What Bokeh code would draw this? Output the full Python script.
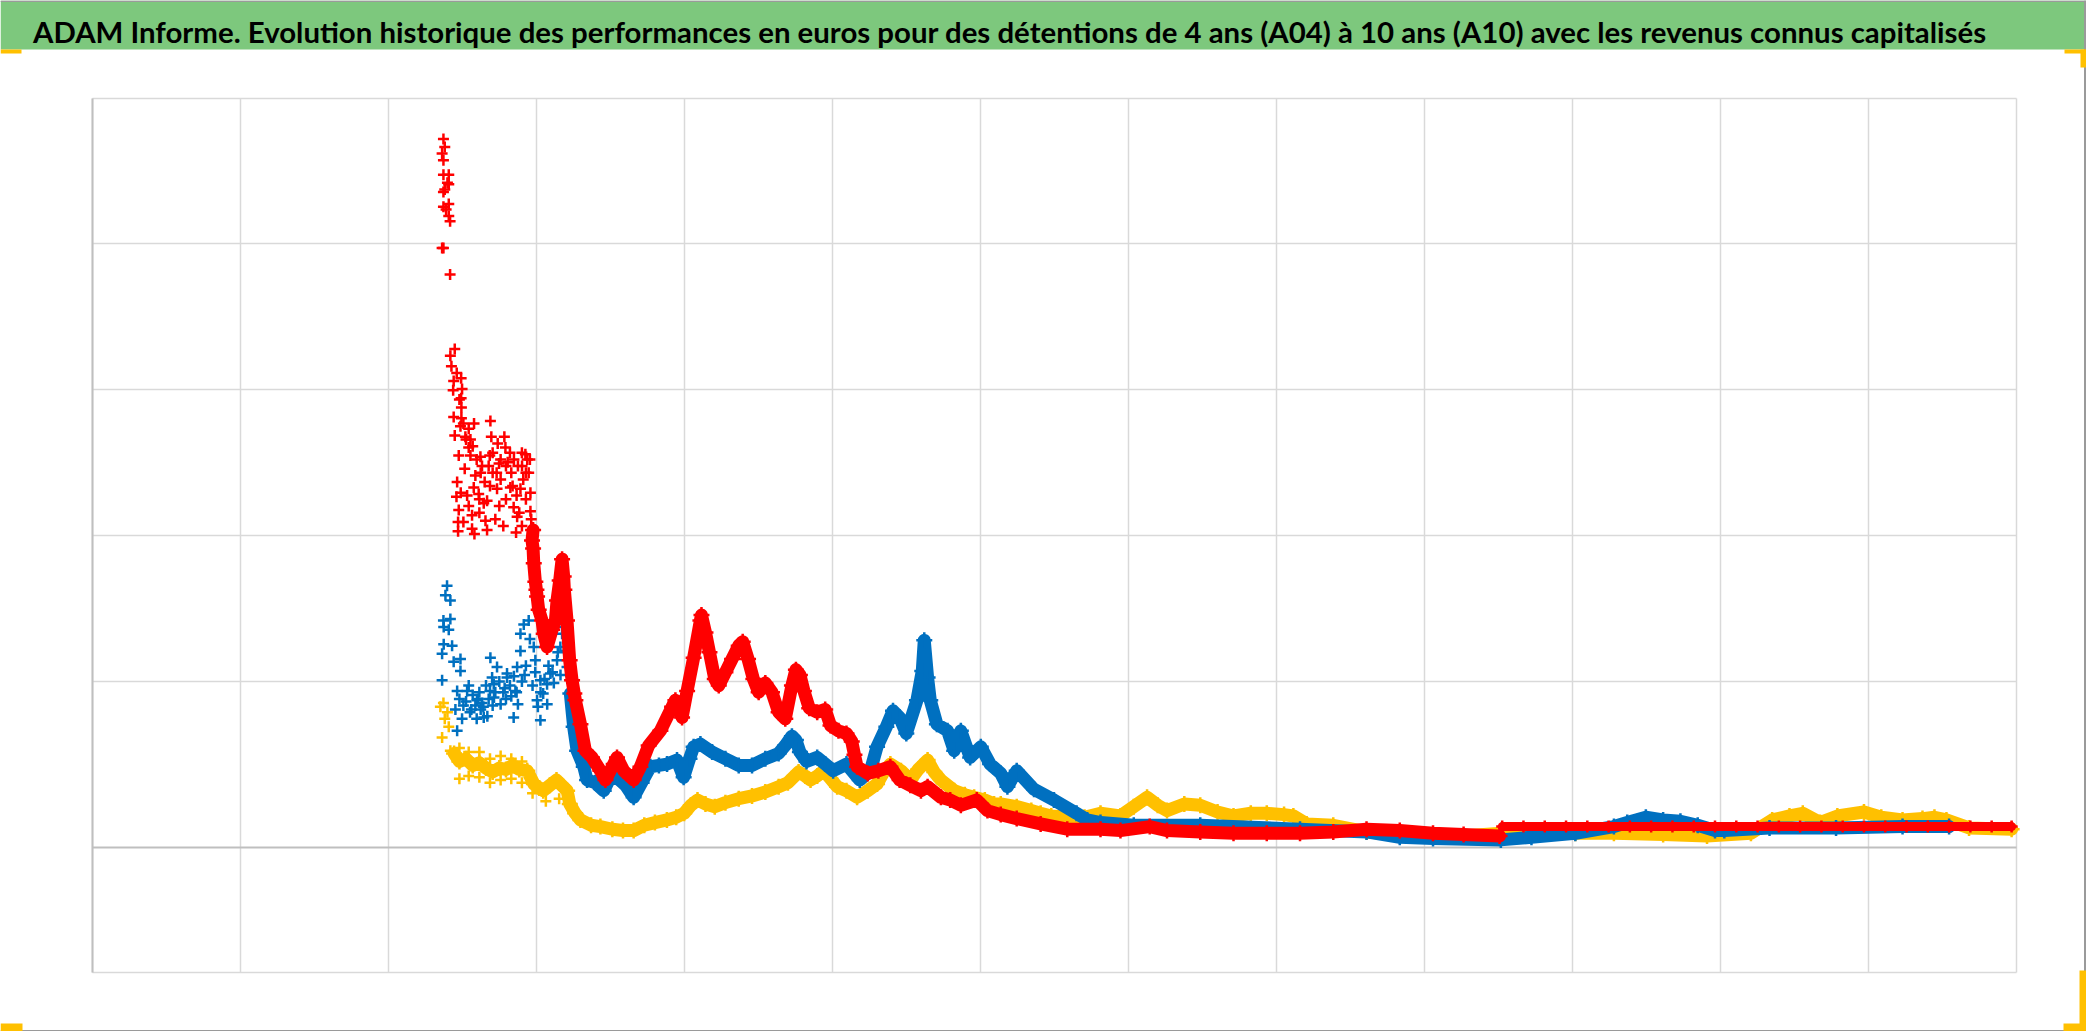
from bokeh.plotting import figure
from bokeh.models import Range1d, FixedTicker, Label, BoxAnnotation, Grid
from bokeh.embed import file_html
from bokeh.resources import INLINE

TITLE = ("ADAM Informe. Evolution historique des performances en euros pour des "
         "détentions de 4 ans (A04) à 10 ans (A10) avec les revenus connus capitalisés")

# ---------------- data (x: time index, y: performance) ----------------
# A10 (red) - isolated early observations
red_sparse_x = [333, 334, 332, 333, 333, 337, 336, 337, 334, 333, 333, 337, 335, 337, 338, 332, 333, 338,
                341.5, 338.2, 339, 340.7, 346.3, 340.3, 347, 346.3, 346.5, 340.7, 346.5, 345.8, 341.5, 352,
                349.5, 353.3, 352, 368.3, 369, 367.8, 344.5, 353.3, 360.8, 373.8, 378.8, 379.6, 374.8, 381.3,
                394.6, 392.1, 397.1, 343.3, 342.8, 350.8, 355.8, 357, 359.5, 363.3, 365.8, 373.3, 383.3, 390.9,
                398.4, 385.8, 388.4, 398.4, 344.5, 344, 344, 354.5, 354.5, 356.3, 364.6, 365.8, 387.6,
                362, 370, 376, 384, 388, 393, 396, 360, 372, 378, 392, 349, 356,
                343, 345, 348, 350, 355, 358, 361, 364, 367, 370, 373, 376, 380, 383, 386, 389, 392, 395,
                398, 385, 380, 375, 368, 360, 352, 348, 346, 390, 395, 399]
red_sparse_y = [533, 527, 522, 517, 506, 506, 500, 499, 495, 493, 482, 484, 480, 475, 471, 451, 451, 431,
                375, 370, 362, 351, 353, 344, 345, 338, 331, 324, 323, 317, 310, 315,
                309, 307, 301, 321, 309, 295, 295, 295, 294, 304, 309, 301, 289, 290,
                296, 287, 282, 275, 264, 265, 271, 280, 266, 259, 261, 270, 271, 270,
                267, 256, 249, 253, 254, 245, 238, 250, 240, 236, 246, 239, 237,
                287, 282, 277, 282, 265, 277, 292, 252, 247, 242, 242, 285, 319,
                357, 337, 319, 307, 302, 292, 282, 275, 287, 297, 282, 292, 287, 297, 292, 287, 297, 282,
                292, 272, 262, 257, 272, 262, 257, 245, 267, 252, 262, 247]
# A10 (red) - continuous daily series
red_x = [400.4, 399.6, 400.4, 400.9, 402.1, 402.9, 403.4, 404.6, 407.1, 408.4, 410.9, 414.7, 417.2, 418.4,
         420.4, 422.2, 423.4, 423.9, 425.9, 427.9, 429.7, 431.4, 432.2, 436, 439.7, 444.7, 451, 454.8,
         461, 463.5, 468.5, 476, 481.1, 487.3, 496.1, 504.9, 507.4, 512.4, 516.2, 521.1, 526.2, 527,
         530, 533, 537, 540, 545, 550, 555, 558, 562, 566, 570, 575, 580, 585, 590, 595, 598, 601, 604,
         608, 614, 620, 624, 630, 636, 640, 642, 644, 652, 660, 669, 676, 684, 692, 697, 707, 714, 722,
         734, 742, 752, 764, 782, 802, 827, 842, 864, 877, 902, 927, 952, 977, 1002, 1027, 1052, 1077,
         1100, 1127]
red_y = [239, 231, 225, 214, 200, 194, 189, 179, 171, 161, 151, 164, 171, 186,
         201, 217, 204, 194, 171, 141, 126, 116, 111, 93, 73, 68, 58, 51,
         63, 68, 58, 51, 61, 77, 88, 106, 111, 98, 118, 143, 171, 175,
         162, 147, 127, 122, 132, 142, 152, 155, 142, 127, 117, 124, 117, 102, 97, 122, 134, 130, 118,
         105, 102, 104, 92, 88, 86, 80, 70, 61, 56, 58, 61, 51, 47, 43, 46, 38, 36, 32,
         36, 28, 25, 22, 18, 14, 14, 13, 16, 13, 12, 11, 11, 11, 12, 14, 13, 11,
         10, 9]
red_flat_x = [1129, 1145, 1161, 1177, 1193, 1209, 1225, 1241, 1257, 1273, 1289, 1305, 1321, 1337, 1353,
              1369, 1385, 1401, 1417, 1433, 1449, 1465, 1481, 1497, 1512]
red_flat_y = [16, 16, 16, 16, 16, 16, 16, 16, 16, 16, 16, 16, 16, 16, 16,
              16, 16, 16, 16, 16, 16, 16, 16, 16, 16]

# A07 (blue) - isolated early observations
blue_sparse_x = [335.7, 338.2, 333.2, 338.2, 333.2, 332, 332, 334.5, 333, 337, 339.5, 340.7, 345.8, 345.8,
                 368.3, 373.3, 369.6, 380.8, 388.4, 390.9, 393.4, 397.1, 390.9, 400.9, 402.1, 405.9, 413.4,
                 418.4, 420.9, 422.2, 423.4, 425.9, 425.9, 343.3, 343.3, 350.8, 358.3, 363.3, 370.8, 380.8,
                 385.8, 387.1, 403.4, 405.9, 410.9, 424.7, 345, 348, 352, 355, 357, 360, 362, 365, 367, 370,
                 372, 375, 378, 380, 383, 386, 388, 392, 395, 398, 402, 406, 409, 412, 415, 419, 342, 347,
                 353, 358, 361, 366,
                 350, 354, 359, 363, 368, 371, 376, 379, 384, 389, 394, 400, 404, 408, 411, 416, 421]
blue_sparse_y = [197, 186, 166, 172, 153, 146, 126, 190, 171, 164, 152, 140, 142, 133,
                 143, 136, 128, 131, 136, 148, 168, 171, 161, 151, 141, 126, 131,
                 141, 151, 161, 166, 148, 136, 118, 88, 118, 111, 98, 123, 128,
                 98, 118, 111, 96, 123, 148, 112, 107, 122, 115, 107, 117, 109, 122, 112, 107,
                 117, 125, 117, 112, 122, 129, 117, 125, 137, 157, 132, 117, 127, 137, 132, 147, 104, 97,
                 102, 97, 104, 99,
                 110, 104, 112, 106, 118, 113, 108, 120, 114, 108, 130, 122, 106, 116, 108, 124, 130]
# A07 (blue) - continuous daily series
blue_x = [428.4, 430.9, 433.5, 438.5, 441, 447, 453.5, 458, 463.5, 470, 476, 482, 488.6, 495, 501.1,
          508.6, 513.6, 518, 521.1, 526.2, 535, 545, 555, 565, 575, 585, 590, 595, 598, 601, 606, 614,
          620, 626, 636, 646, 654, 659, 666, 671, 676, 681, 689, 693, 694.5, 697, 699, 704, 712, 717,
          722, 729, 737, 744, 752, 757, 764, 777, 792, 809, 817, 827, 852, 902, 977, 1027, 1052, 1077,
          1128, 1151, 1184, 1213, 1223, 1237, 1250, 1263, 1276, 1289, 1296, 1330, 1380, 1430, 1465]
blue_y = [116, 91, 73, 61, 51, 49, 43, 52, 53, 47, 38, 49, 61, 62, 63,
          66, 53, 67, 76, 78, 72, 67, 62, 62, 67, 71, 77, 84, 81, 72, 65, 68,
          63, 58, 63, 51, 58, 76, 91, 103, 98, 86, 111, 133, 156, 128, 111, 93, 88, 73,
          88, 68, 76, 63, 56, 46, 58, 44, 36, 26, 21, 19, 17, 17, 14, 12, 8, 7,
          6, 8, 11, 16, 19, 23, 21, 20, 17, 13, 13, 15, 15, 16, 16]

# A04 (yellow)
yellow_sparse_x = [330.7, 332, 337, 338.2, 333, 334, 336,
                   345, 352, 360, 368, 376, 384, 392, 345, 352, 360, 368, 376, 384, 392, 400, 410, 420]
yellow_sparse_y = [106, 83, 91, 73, 109, 97, 102,
                   75, 72, 72, 67, 69, 67, 65, 52, 54, 53, 49, 51, 52, 49, 41, 35, 37]
yellow_x = [341, 345, 350, 355, 360, 365, 370, 375, 380, 385, 390, 396, 401, 405, 408, 413, 418, 422,
            426, 428, 432, 436, 444, 451, 460, 468, 476, 484, 492, 501, 508, 514, 519, 524, 530, 537,
            545, 555, 565, 575, 585, 592, 600, 605, 609, 614, 619, 624, 629, 636, 644, 652, 659, 664,
            669, 677, 684, 690, 697, 702, 707, 717, 725, 732, 740, 747, 752, 764, 775, 782, 790, 802,
            809, 815, 827, 842, 852, 862, 870, 877, 890, 902, 915, 927, 940, 952, 965, 972, 982, 1002,
            1027, 1052, 1077, 1100, 1128, 1184, 1213, 1250, 1283, 1316, 1332, 1345, 1355, 1368, 1381,
            1401, 1414, 1430, 1445, 1454, 1463, 1480, 1512]
yellow_y = [71, 65, 67, 62, 64, 60, 57, 60, 59, 62, 59, 58, 48, 45, 43, 47, 51, 47,
            43, 33, 26, 21, 17, 16, 14, 13, 13, 17, 19, 21, 23, 26, 32, 36, 33, 31,
            34, 37, 39, 42, 46, 49, 57, 54, 51, 54, 58, 52, 46, 43, 38, 43, 48, 57,
            63, 58, 51, 59, 66, 57, 51, 43, 40, 38, 36, 33, 33, 31, 28, 26, 24, 23,
            21, 23, 26, 24, 31, 38, 32, 28, 33, 32, 27, 24, 26, 26, 25, 24, 18, 17,
            12, 10, 9, 9, 11, 11, 11, 10, 9, 11, 21, 24, 26, 19, 24,
            27, 23, 21, 22, 23, 21, 15, 14]

# ---------------- layout geometry (pixels of the page) ----------------
W, H = 2086, 1031
PX_L, PX_R, PY_T, PY_B = 92, 2015.5, 97.7, 972       # plot area in page pixels
X0, X1 = 69.15, 1515.3                               # plot-area x limits (data)
Y0, Y1 = -93.7, 563.6                                # plot-area y limits (data)
SX = (X1 - X0) / (PX_R - PX_L)
SY = (Y1 - Y0) / (PY_B - PY_T)
XLO = X0 - PX_L * SX
YHI = Y1 + PY_T * SY


def px_x(v):
    return XLO + v * SX


def px_y(v):
    return YHI - v * SY


GREEN = "#7DC87D"
RED, BLUE, YELLOW = "#FF0000", "#0070C0", "#FFC000"
HANDLE = "#FFC000"
GRID_C, AXIS_C = "#D9D9D9", "#BFBFBF"

p = figure(width=W, height=H, x_range=Range1d(px_x(0), px_x(W)), y_range=Range1d(px_y(H), px_y(0)),
           toolbar_location=None, output_backend="svg", x_axis_type=None, y_axis_type=None,
           min_border_left=0, min_border_right=0, min_border_top=0, min_border_bottom=0)
p.outline_line_color = None
p.background_fill_color = "white"
p.border_fill_color = "white"

HAS_CB = "cross_bounds" in Grid.properties()


def add_grid(dim, ticks, cross, color, width):
    if HAS_CB:
        p.add_layout(Grid(dimension=dim, ticker=FixedTicker(ticks=ticks), cross_bounds=cross,
                          grid_line_color=color, grid_line_width=width), "center")
    else:
        n = len(ticks)
        if dim == 0:
            p.segment(x0=ticks, y0=[cross[0]] * n, x1=ticks, y1=[cross[1]] * n,
                      line_color=color, line_width=width, level="underlay")
        else:
            p.segment(x0=[cross[0]] * n, y0=ticks, x1=[cross[1]] * n, y1=ticks,
                      line_color=color, line_width=width, level="underlay")


step_x = (X1 - X0) / 13
step_y = 109.55
add_grid(0, [X0 + step_x * k for k in range(14)], (Y0, Y1), GRID_C, 1.5)
add_grid(1, [Y1 - step_y * k for k in range(5)] + [Y0], (X0, X1), GRID_C, 1.5)
add_grid(0, [X0], (Y0, Y1), AXIS_C, 2)
add_grid(1, [0], (X0, X1), AXIS_C, 2)

# title band
p.add_layout(BoxAnnotation(bottom=px_y(49), fill_color=GREEN, fill_alpha=1, line_color=None,
                           level="underlay"))
p.add_layout(Label(x=px_x(1009.4), y=px_y(30.8), text=TITLE, text_align="center",
                   text_baseline="alphabetic", text_font="Lato", text_font_style="bold",
                   text_font_size="29.4px", text_color="black"))

# chart-area frame and selection handles
for kw in (dict(bottom=px_y(1.5)), dict(left=px_x(2083.5)), dict(top=px_y(1029.5))):
    p.add_layout(BoxAnnotation(fill_color="#9A9A9A", fill_alpha=1, line_color=None, **kw))
for (l, r, t, b) in ((0, 21, 49, 53), (2064, 2086, 49, 53), (2080, 2086, 49, 67),
                     (0, 22, 1023, 1031), (2063, 2086, 1023, 1031), (2079, 2086, 970, 1031)):
    p.add_layout(BoxAnnotation(left=px_x(l), right=px_x(r), top=px_y(t), bottom=px_y(b),
                               fill_color=HANDLE, fill_alpha=1, line_color=None))

LW = 13
MS = 11


def series(xs, ys, color, connected, lw=LW):
    if connected:
        p.line(xs, ys, line_color=color, line_width=lw, line_join="round", line_cap="round")
        p.scatter(xs, ys, marker="cross", size=lw + 3, line_color=color, line_width=2.5)
    else:
        p.scatter(xs, ys, marker="cross", size=MS, line_color=color, line_width=2.5)


series(yellow_sparse_x, yellow_sparse_y, YELLOW, False)
series(yellow_x, yellow_y, YELLOW, True)
series(blue_sparse_x, blue_sparse_y, BLUE, False)
series(blue_x, blue_y, BLUE, True)
series(red_sparse_x, red_sparse_y, RED, False)
series(red_x, red_y, RED, True)
series(red_flat_x, red_flat_y, RED, True, lw=9)

open("out.html", "w").write(file_html(p, INLINE))
